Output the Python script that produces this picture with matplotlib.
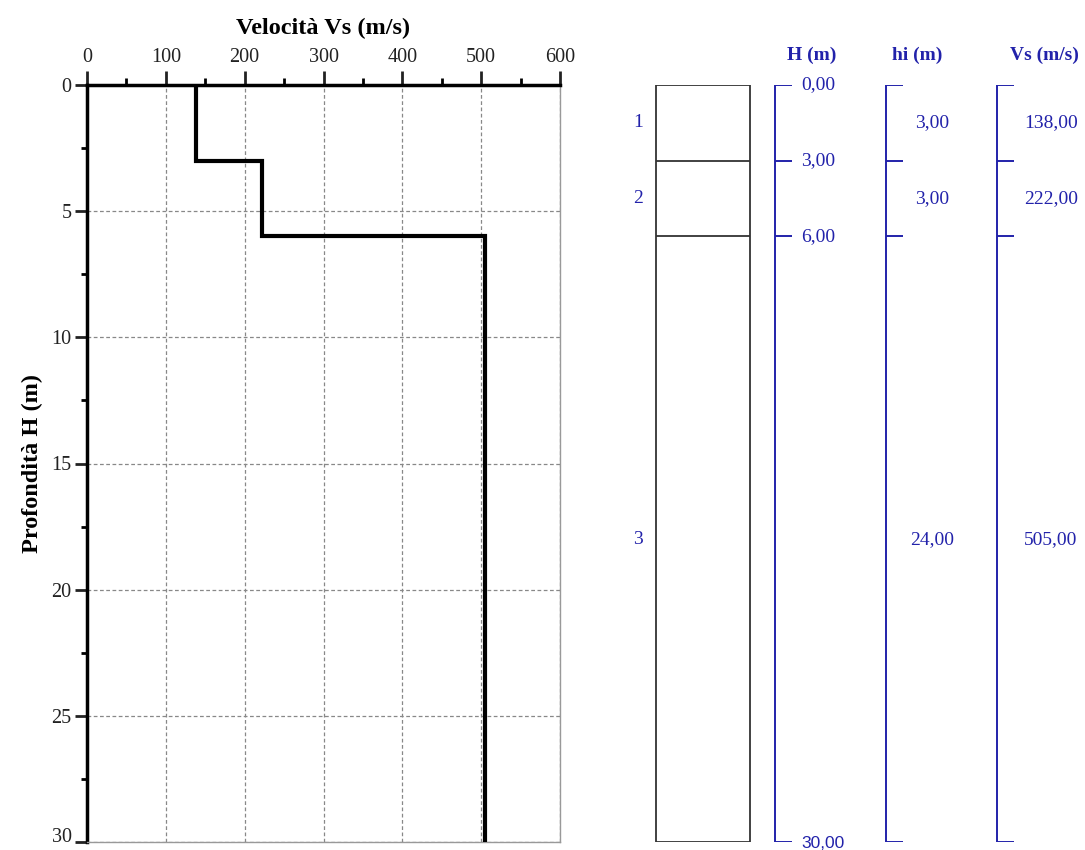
import matplotlib.pyplot as plt
import numpy as np
from matplotlib.ticker import MultipleLocator

# layer data
depths = [0.0, 3.0, 6.0, 30.0]
thick = [3.0, 3.0, 24.0]
vs = [138.0, 222.0, 505.0]
layer_ids = ['1', '2', '3']

plt.rcParams['font.family'] = ['Liberation Serif', 'DejaVu Serif']
blue = '#2222aa'

fig = plt.figure(figsize=(10.85, 8.5), dpi=100)

# --- left: Vs profile ---
ax = fig.add_axes([87 / 1085, 1 - 842 / 850, (560 - 87) / 1085, (842 - 85) / 850])

# step profile
xs, ys = [], []
for i in range(len(vs)):
    xs += [vs[i], vs[i]]
    ys += [depths[i], depths[i + 1]]
ax.plot(xs, ys, color='black', lw=3, solid_joinstyle='miter', zorder=3)

ax.set_xlim(0, 600)
ax.set_ylim(30, 0)
ax.xaxis.tick_top()
ax.xaxis.set_label_position('top')
ax.xaxis.set_major_locator(MultipleLocator(100))
ax.xaxis.set_minor_locator(MultipleLocator(50))
ax.set_yticks(np.arange(0, 31, 5))
ax.yaxis.set_minor_locator(MultipleLocator(2.5))
ax.tick_params(axis='x', which='major', direction='out', length=10, width=2, labelsize=14.5, pad=3)
ax.tick_params(axis='x', which='minor', direction='out', length=5, width=2)
ax.tick_params(axis='y', which='major', direction='out', length=9, width=2, labelsize=14.5, pad=2)
ax.tick_params(axis='y', which='minor', direction='out', length=4, width=2)
ax.tick_params(colors='#222222')
for s in ['top', 'left']:
    ax.spines[s].set_linewidth(2.5)
    ax.spines[s].set_color('black')
for s in ['right', 'bottom']:
    ax.spines[s].set_linewidth(1)
    ax.spines[s].set_color('#999999')
ax.grid(True, which='major', ls=(0, (3, 2)), color='#888888', lw=0.9)
ax.set_axisbelow(True)
ax.set_xlabel('Velocità Vs (m/s)', fontsize=17.5, fontweight='bold', labelpad=10)
ax.set_ylabel('Profondità H (m)', fontsize=17.5, fontweight='bold', labelpad=6)
# keep the bottom label inside the figure
ax.yaxis.get_major_ticks()[-1].label1.set_va('baseline')

# --- right: layer column ---
ax2 = fig.add_axes([600 / 1085, 1 - 842 / 850, 485 / 1085, (842 - 85) / 850])
ax2.set_xlim(600, 1085)
ax2.set_ylim(30, 0)
ax2.axis('off')

# column box
ax2.plot([656, 656], [depths[0], depths[-1]], color='#333333', lw=1.3)
ax2.plot([750, 750], [depths[0], depths[-1]], color='#333333', lw=1.3)
ax2.hlines(depths, 656, 750, color='#333333', lw=1.3)

# brackets
for bx in [775, 886, 997]:
    ax2.plot([bx, bx], [depths[0], depths[-1]], color=blue, lw=1.4)
    ax2.hlines(depths, bx, bx + 17, color=blue, lw=1.4)

for d in depths:
    last = d == depths[-1]
    ax2.text(801, d, f'{d:.2f}'.replace('.', ','), color=blue,
             fontsize=12.5 if last else 14, ha='left',
             va='center_baseline' if last else 'center',
             family=['Liberation Sans', 'DejaVu Sans'] if last else None,
             clip_on=False)

for i in range(len(vs)):
    mid = (depths[i] + depths[i + 1]) / 2
    ax2.text(638, mid, layer_ids[i], color=blue, fontsize=14, ha='center', va='center')
    ax2.text(932, mid, f'{thick[i]:.2f}'.replace('.', ','), color=blue, fontsize=14, ha='center', va='center')
    ax2.text(1051, mid, f'{vs[i]:.2f}'.replace('.', ','), color=blue, fontsize=14, ha='center', va='center')

hy = 1 - 55 / 850
fig.text(812 / 1085, hy, 'H (m)', color=blue, fontsize=14, fontweight='bold', ha='center', va='center')
fig.text(917 / 1085, hy, 'hi (m)', color=blue, fontsize=14, fontweight='bold', ha='center', va='center')
fig.text(1044 / 1085, hy, 'Vs (m/s)', color=blue, fontsize=14, fontweight='bold', ha='center', va='center')

fig.savefig('out.png', dpi=100)
